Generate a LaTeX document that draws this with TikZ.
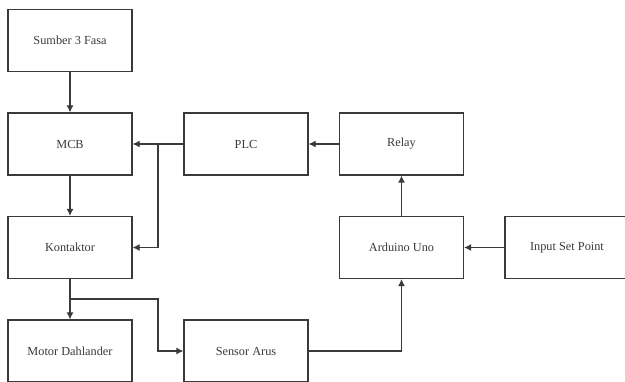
\documentclass[tikz,border=0pt]{standalone}
\usepackage{fontspec}
\setmainfont{Liberation Serif}
\usetikzlibrary{arrows.meta}
\definecolor{ln}{HTML}{3A3A3A}
\begin{document}
\begin{tikzpicture}[x=1pt,y=-1pt,
  blk/.style={draw=ln,line width=1.2pt,minimum width=124pt,minimum height=62pt,inner sep=0pt,font=\fontsize{12.3}{14}\selectfont,text=ln},
  conn/.style={draw=ln,line width=1.2pt,-{Latex[length=7pt,width=7pt]}}]
\useasboundingbox (0,0) rectangle (625,382);
\node[blk] (sumber) at (70,40.5) {Sumber 3 Fasa};
\node[blk] (mcb) at (70,144) {MCB};
\node[blk] (plc) at (246,144) {PLC};
\node[blk] (relay) at (401.5,144) {Relay};
\node[blk] (kont) at (70,247.5) {Kontaktor};
\node[blk] (ard) at (401.5,247.5) {Arduino Uno};
\node[blk] (inp) at (567,247.5) {Input Set Point};
\node[blk] (motor) at (70,351) {Motor Dahlander};
\node[blk] (sensor) at (246,351) {Sensor Arus};
\coordinate (bp) at (158,144);
\coordinate (bk) at (70,299);
\draw[conn] (sumber) -- (mcb);
\draw[conn] (plc) -- (mcb);
\draw[conn] (bp) |- (kont);
\draw[conn] (relay) -- (plc);
\draw[conn] (mcb) -- (kont);
\draw[conn] (kont) -- (motor);
\draw[conn] (bk) -- (158,299) |- (sensor);
\draw[conn] (sensor) -| (ard);
\draw[conn] (ard) -- (relay);
\draw[conn] (inp) -- (ard);
\end{tikzpicture}
\end{document}
